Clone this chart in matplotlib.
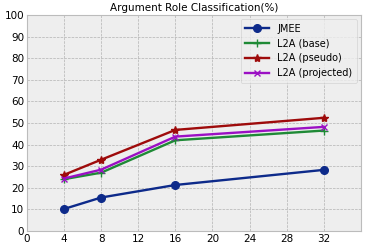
import matplotlib
matplotlib.use("Agg")
import matplotlib.pyplot as plt

plt.style.use("bmh")

shots = [4, 8, 16, 32]
jmee = [10.2, 15.5, 21.3, 28.3]
l2a_base = [24.0, 27.0, 42.0, 46.5]
l2a_pseudo = [26.0, 33.0, 46.8, 52.4]
l2a_projected = [24.3, 28.4, 43.7, 48.2]

fig = plt.figure(figsize=(3.69, 2.46), dpi=100)
ax = fig.add_axes([0.073, 0.061, 0.905, 0.878])

ax.plot(shots, jmee, marker="o", color="#0d2a8a", lw=1.7, ms=5.5, label="JMEE")
ax.plot(shots, l2a_base, marker="+", color="#1f8a36", lw=1.7, ms=6, label="L2A (base)")
ax.plot(shots, l2a_pseudo, marker="*", color="#9e0b0b", lw=1.7, ms=6, label="L2A (pseudo)")
ax.plot(shots, l2a_projected, marker="x", color="#9b10c4", lw=1.7, ms=5, label="L2A (projected)")

ax.set_xlim(0, 36)
ax.set_ylim(0, 100)
ax.set_xticks(range(0, 36, 4))
ax.set_yticks(range(0, 101, 10))
ax.tick_params(labelsize=7.5, length=0, pad=2)
ax.set_title("Argument Role Classification(%)", fontsize=7.5, pad=3)
ax.legend(loc="upper right", fontsize=7, framealpha=0.8, borderpad=0.45,
          handlelength=2.5, labelspacing=0.5, borderaxespad=0.45)

fig.savefig("out.png", dpi=100)
